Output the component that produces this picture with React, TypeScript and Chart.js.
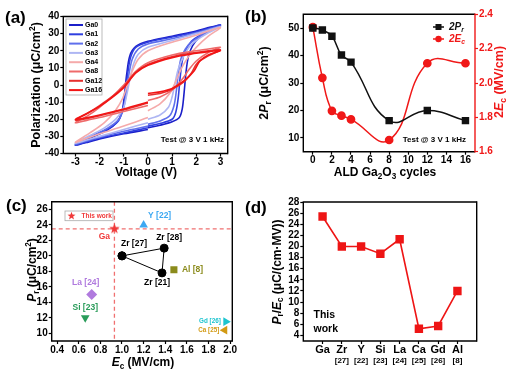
import React, { useEffect, useRef } from 'react';
import { Chart, registerables } from 'chart.js';

Chart.register(...registerables);

const FONT = '"Liberation Sans", Arial, Helvetica, sans-serif';

// ---------------- (a) P–V hysteresis loops ----------------
const loopNames = ['Ga0', 'Ga1', 'Ga2', 'Ga3', 'Ga4', 'Ga8', 'Ga12', 'Ga16'];
const loopColors = ['#1b1fc9', '#2f3fe0', '#5f6fec', '#aeb6f3', '#f5aaaa', '#ef6a6a', '#e6302f', '#f21414'];
const loopGa0: [number, number][] = [
  [0, -25], [0.5, -23.5], [1, -21.5], [1.3, -19], [1.42, -14], [1.5, -4], [1.58, 8], [1.68, 17], [1.85, 23], [2.1, 27.5], [2.5, 31.5], [3, 35],
  [2.5, 33.5], [2, 31.5], [1, 28.5], [0, 25.5], [-0.5, 22.5], [-0.75, 17], [-0.88, 6], [-0.98, -7], [-1.08, -16], [-1.3, -22], [-1.7, -26.5], [-2.3, -30.5], [-3, -35],
  [-2.5, -33.5], [-2, -31.5], [-1, -28.5], [0, -26],
];
const loopGa1: [number, number][] = [
  [0, -24], [0.5, -22.5], [1, -20], [1.15, -16], [1.25, -8], [1.33, 4], [1.42, 14], [1.55, 20], [1.8, 25.5], [2.2, 29.5], [2.6, 32.5], [3, 35],
  [2.5, 33], [2, 31], [1, 28], [0, 25], [-0.5, 22], [-0.72, 16], [-0.85, 5], [-0.95, -7], [-1.05, -15], [-1.25, -21.5], [-1.7, -26], [-2.3, -30], [-3, -35],
  [-2.5, -33], [-2, -31], [-1, -28], [0, -25],
];
const loopGa2: [number, number][] = [
  [0, -23], [0.5, -21], [0.9, -18], [1.08, -12], [1.18, -3], [1.26, 7], [1.36, 15], [1.55, 21], [1.8, 25], [2.2, 29], [2.6, 32], [3, 34.5],
  [2.5, 32.5], [2, 30.5], [1, 27], [0, 24], [-0.4, 21], [-0.65, 15], [-0.8, 5], [-0.9, -5], [-1.0, -13], [-1.2, -20], [-1.7, -25.5], [-2.3, -29.5], [-3, -34.5],
  [-2.5, -32.5], [-2, -30.5], [-1, -27], [0, -24],
];
const loopGa3: [number, number][] = [
  [0, -20], [0.5, -17.5], [0.85, -13], [1.0, -7], [1.12, 1], [1.25, 9], [1.45, 16], [1.7, 22], [2, 26], [2.5, 30.5], [3, 34],
  [2.5, 32], [2, 30], [1, 26], [0, 22], [-0.4, 18], [-0.6, 12], [-0.75, 3], [-0.88, -6], [-1.0, -13], [-1.3, -19.5], [-1.8, -25], [-2.4, -29.5], [-3, -34],
  [-2.5, -32], [-2, -30], [-1, -26], [0, -22],
];
const loopGa4: [number, number][] = [
  [0, -15], [0.5, -11], [0.9, -5], [1.15, 2], [1.4, 10], [1.7, 17], [2, 22], [2.5, 28.5], [3, 33.5],
  [2.5, 31.5], [2, 29], [1, 25], [0, 20], [-0.4, 15], [-0.65, 8], [-0.85, 0], [-1.05, -8], [-1.35, -15], [-1.8, -22], [-2.4, -28], [-3, -33.5],
  [-2.5, -31], [-2, -28.5], [-1, -24], [0, -19],
];
const loopGa8: [number, number][] = [
  [0, -9], [0.5, -7], [1, -3], [1.4, 3], [1.7, 9], [2, 14], [2.5, 19], [3, 22],
  [2.5, 21], [2, 20], [1, 17.5], [0, 13], [-0.5, 8], [-1, 0], [-1.5, -7], [-2, -13], [-2.5, -18], [-3, -22],
  [-2.5, -20.5], [-2, -19], [-1, -15.5], [0, -12],
];
const loopGa12: [number, number][] = [
  [0, -6], [0.5, -5], [1, -2.5], [1.5, 2], [1.8, 7], [2.05, 13], [2.5, 17], [3, 20.5],
  [2.5, 20], [2, 19], [1, 16.5], [0, 12], [-0.5, 7.5], [-1, -1], [-1.5, -7], [-2, -12], [-2.5, -16.5], [-3, -20.5],
  [-2.5, -19.5], [-2, -18], [-1, -14.5], [0, -10.5],
];
const loopGa16: [number, number][] = [
  [0, -5], [0.5, -4], [1, -2], [1.5, 2.5], [1.9, 8], [2.15, 14], [2.5, 17.5], [3, 20],
  [2.5, 19.5], [2, 18.5], [1, 16], [0, 11.5], [-0.5, 7], [-1, -1.5], [-1.5, -7.5], [-2, -12.5], [-2.5, -16.5], [-3, -20],
  [-2.5, -19], [-2, -17.5], [-1, -14], [0, -10],
];
const loops = [loopGa0, loopGa1, loopGa2, loopGa3, loopGa4, loopGa8, loopGa12, loopGa16];
const aXTicks = [-3, -2, -1, 0, 1, 2, 3];
const aYTicks = [-40, -30, -20, -10, 0, 10, 20, 30, 40];

// ---------------- (b) 2Pr and 2Ec vs cycles ----------------
const cycles = [0, 1, 2, 3, 4, 8, 12, 16];
const twoPr = [50, 49.3, 47, 40.2, 37.6, 16.3, 20, 16.3];
const twoEc = [2.325, 2.03, 1.838, 1.81, 1.788, 1.668, 2.115, 2.115];
const bXTicks = [0, 2, 4, 6, 8, 10, 12, 14, 16];
const bYTicks = [10, 20, 30, 40, 50];
const bY1Ticks = [1.6, 1.8, 2.0, 2.2, 2.4];

// ---------------- (c) Pr vs Ec comparison ----------------
const refNames = ['Ga', 'Y [22]', 'Zr [27]', 'Zr [28]', 'Zr [21]', 'Al [8]', 'La [24]', 'Si [23]', 'Gd [26]', 'Ca [25]'];
const refEc = [0.93, 1.2, 1.0, 1.39, 1.37, 1.48, 0.72, 0.66, 1.96, 1.95];
const refPr = [23.5, 24, 20, 21, 17.8, 18.2, 15, 12, 11.5, 10.4];
const refColors = ['#f03a3a', '#3ca8f2', '#000000', '#000000', '#000000', '#8b8b1c', '#b07ade', '#2a9c5a', '#1cc4cf', '#d29a14'];
const cXTicks = [0.4, 0.6, 0.8, 1.0, 1.2, 1.4, 1.6, 1.8, 2.0];
const cYTicks = [10, 12, 14, 16, 18, 20, 22, 24, 26];

// ---------------- (d) Pr/Ec comparison ----------------
const dCats = ['Ga', 'Zr', 'Y', 'Si', 'La', 'Ca', 'Gd', 'Al'];
const dRefs = ['', '[27]', '[22]', '[23]', '[24]', '[25]', '[26]', '[8]'];
const dVals = [25.4, 20, 20, 18.7, 21.3, 5.2, 5.7, 12];
const dYTicks = [4, 6, 8, 10, 12, 14, 16, 18, 20, 22, 24, 26, 28];

// ---------------- helpers ----------------
type Seg = { t: string; it?: boolean; sub?: boolean; sup?: boolean };

function drawRich(ctx: CanvasRenderingContext2D, segs: Seg[], x: number, y: number, size: number, color: string, align: 'left' | 'center' | 'right' = 'center', rot = 0) {
  ctx.save();
  ctx.translate(x, y);
  if (rot) ctx.rotate(rot);
  ctx.fillStyle = color;
  ctx.textBaseline = 'middle';
  ctx.textAlign = 'left';
  const fontOf = (s: Seg) => `${s.it ? 'italic ' : ''}bold ${s.sub || s.sup ? size * 0.68 : size}px ${FONT}`;
  const ws = segs.map((s) => { ctx.font = fontOf(s); return ctx.measureText(s.t).width; });
  const total = ws.reduce((a, b) => a + b, 0);
  let cx = align === 'center' ? -total / 2 : align === 'right' ? -total : 0;
  segs.forEach((s, i) => {
    ctx.font = fontOf(s);
    const dy = s.sub ? size * 0.3 : s.sup ? -size * 0.32 : 0;
    ctx.fillText(s.t, cx, dy);
    cx += ws[i];
  });
  ctx.restore();
}

function starPath(g: CanvasRenderingContext2D, cx: number, cy: number, r: number) {
  g.beginPath();
  for (let i = 0; i < 10; i++) {
    const ang = -Math.PI / 2 + (i * Math.PI) / 5;
    const rr = i % 2 === 0 ? r : r * 0.42;
    g.lineTo(cx + rr * Math.cos(ang), cy + rr * Math.sin(ang));
  }
  g.closePath();
}

function starCanvas(r: number, color: string) {
  const s = Math.ceil(r * 2 + 2);
  const c = document.createElement('canvas');
  c.width = s; c.height = s;
  const g = c.getContext('2d')!;
  starPath(g, s / 2, s / 2, r);
  g.fillStyle = color;
  g.fill();
  return c;
}

function frame(chart: any, rightColor = '#000') {
  const { ctx, chartArea: a } = chart;
  ctx.save();
  ctx.lineWidth = 1.4;
  ctx.strokeStyle = '#000';
  ctx.beginPath();
  ctx.moveTo(a.right, a.top); ctx.lineTo(a.left, a.top); ctx.lineTo(a.left, a.bottom); ctx.lineTo(a.right, a.bottom);
  ctx.stroke();
  ctx.strokeStyle = rightColor;
  ctx.beginPath();
  ctx.moveTo(a.right, a.top - 0.7); ctx.lineTo(a.right, a.bottom + 0.7);
  ctx.stroke();
  ctx.restore();
}

const tickFont = { family: FONT, size: 10, weight: 'bold' as const };

function linAxis(position: 'left' | 'right' | 'bottom', min: number, max: number, tickVals: number[], size: number, color = '#000', fmt?: (v: number) => string, showLabels = true) {
  const horizontal = position === 'bottom';
  const ticks: any = { autoSkip: false, maxRotation: 0, color, font: tickFont, padding: horizontal ? 0 : 1, display: showLabels };
  if (fmt) ticks.callback = (v: any) => fmt(Number(v));
  return {
    type: 'linear', position, min, max, ticks,
    grid: { display: true, drawOnChartArea: false, drawTicks: true, tickLength: 3, tickWidth: 1.2, color },
    border: { display: false },
    afterBuildTicks: (s: any) => { s.ticks = tickVals.map((v) => ({ value: v })); },
    afterFit: (s: any) => { if (horizontal) s.height = size; else s.width = size; },
  } as any;
}

const base = (top: number, right: number) => ({
  animation: false as const,
  responsive: false,
  devicePixelRatio: 1,
  events: [] as any[],
  layout: { padding: { top, right, left: 0, bottom: 0 } },
  plugins: { legend: { display: false }, tooltip: { enabled: false } },
});

// ---------------- panel builders ----------------
function buildA(cv: HTMLCanvasElement) {
  return new Chart(cv, {
    type: 'scatter',
    data: {
      datasets: loops.map((pts, i) => ({
        label: loopNames[i],
        data: pts.map(([x, y]) => ({ x, y })),
        showLine: true, borderColor: loopColors[i], backgroundColor: loopColors[i], borderWidth: 1.6,
        pointRadius: 0, tension: 0.3, order: loops.length - i,
      })),
    },
    options: {
      ...base(16.5, 22.3),
      scales: {
        x: linAxis('bottom', -3.5, 3.3, aXTicks, 31.5),
        y: linAxis('left', -40, 40, aYTicks, 63.3),
      },
    } as any,
    plugins: [{
      id: 'decoA',
      afterDraw(chart: any) {
        const ctx = chart.ctx as CanvasRenderingContext2D;
        frame(chart);
        ctx.save();
        ctx.fillStyle = '#fff';
        ctx.fillRect(66, 19, 36, 76);
        ctx.strokeStyle = '#aaa'; ctx.lineWidth = 0.8;
        ctx.strokeRect(66, 19, 36, 76);
        loopNames.forEach((n, i) => {
          const y = 25 + i * 9.3;
          ctx.strokeStyle = loopColors[i]; ctx.lineWidth = 2;
          ctx.beginPath(); ctx.moveTo(69, y); ctx.lineTo(83, y); ctx.stroke();
          drawRich(ctx, [{ t: n }], 85, y, 7, '#000', 'left');
        });
        ctx.restore();
        drawRich(ctx, [{ t: 'Test @ 3 V 1 kHz' }], 224, 140, 8, '#000', 'right');
        drawRich(ctx, [{ t: 'Polarization (\u03bcC/cm' }, { t: '2', sup: true }, { t: ')' }], 37, 85, 12.5, '#000', 'center', -Math.PI / 2);
        drawRich(ctx, [{ t: 'Voltage (V)' }], 146, 173, 12, '#000');
      },
    }],
  });
}

function buildB(cv: HTMLCanvasElement) {
  return new Chart(cv, {
    type: 'scatter',
    data: {
      datasets: [
        {
          label: '2Pr', data: cycles.map((x, i) => ({ x, y: twoPr[i] })), yAxisID: 'y',
          showLine: true, borderColor: '#111', backgroundColor: '#111', borderWidth: 1.5, tension: 0.45,
          pointStyle: 'rect', pointRadius: 4.2,
        },
        {
          label: '2Ec', data: cycles.map((x, i) => ({ x, y: twoEc[i] })), yAxisID: 'y1',
          showLine: true, borderColor: '#f01818', backgroundColor: '#f01818', borderWidth: 1.5, tension: 0.45,
          pointStyle: 'circle', pointRadius: 3.6,
        },
      ],
    },
    options: {
      ...base(14.3, 0),
      scales: {
        x: linAxis('bottom', -1, 17, bXTicks, 33.3),
        y: linAxis('left', 5, 55, bYTicks, 53.3),
        y1: linAxis('right', 1.6, 2.4, bY1Ticks, 36, '#f01818', (v) => v.toFixed(1)),
      },
    } as any,
    plugins: [{
      id: 'decoB',
      afterDraw(chart: any) {
        const ctx = chart.ctx as CanvasRenderingContext2D;
        frame(chart, '#f01818');
        ctx.save();
        ctx.lineWidth = 1.5;
        ctx.strokeStyle = '#111'; ctx.fillStyle = '#111';
        ctx.beginPath(); ctx.moveTo(183, 27); ctx.lineTo(194, 27); ctx.stroke();
        ctx.fillRect(185.5, 24, 6, 6);
        ctx.strokeStyle = '#f01818'; ctx.fillStyle = '#f01818';
        ctx.beginPath(); ctx.moveTo(183, 39); ctx.lineTo(194, 39); ctx.stroke();
        ctx.beginPath(); ctx.arc(188.5, 39, 3.2, 0, Math.PI * 2); ctx.fill();
        ctx.restore();
        drawRich(ctx, [{ t: '2', it: true }, { t: 'P', it: true }, { t: 'r', it: true, sub: true }], 199, 27, 10, '#111', 'left');
        drawRich(ctx, [{ t: '2', it: true }, { t: 'E', it: true }, { t: 'c', it: true, sub: true }], 199, 39, 10, '#f01818', 'left');
        drawRich(ctx, [{ t: 'Test @ 3 V 1 kHz' }], 216, 140, 8, '#000', 'right');
        drawRich(ctx, [{ t: '2' }, { t: 'P', it: true }, { t: 'r', sub: true }, { t: ' (\u03bcC/cm' }, { t: '2', sup: true }, { t: ')' }], 15, 83, 12.5, '#000', 'center', -Math.PI / 2);
        drawRich(ctx, [{ t: '2' }, { t: 'E', it: true }, { t: 'c', sub: true }, { t: ' (MV/cm)' }], 250, 82, 12.5, '#f01818', 'center', -Math.PI / 2);
        drawRich(ctx, [{ t: 'ALD Ga' }, { t: '2', sub: true }, { t: 'O' }, { t: '3', sub: true }, { t: ' cycles' }], 135, 173, 12, '#000');
      },
    }],
  });
}

const cLabelPlace: { dx: number; dy: number; align: 'left' | 'center' | 'right'; size: number }[] = [
  { dx: -10, dy: 8, align: 'center', size: 8.5 },
  { dx: 16, dy: -9.7, align: 'center', size: 8.5 },
  { dx: 12, dy: -12, align: 'center', size: 8.5 },
  { dx: 5, dy: -10.5, align: 'center', size: 8.5 },
  { dx: -5, dy: 10, align: 'center', size: 8.5 },
  { dx: 8, dy: 0, align: 'left', size: 8.5 },
  { dx: -6, dy: -12, align: 'center', size: 8.5 },
  { dx: 0, dy: -10.5, align: 'center', size: 8.5 },
  { dx: -5, dy: 0, align: 'right', size: 6.3 },
  { dx: -5.5, dy: 0, align: 'right', size: 6.3 },
];

function buildC(cv: HTMLCanvasElement) {
  const pt = (i: number) => ({ x: refEc[i], y: refPr[i] });
  const single = (i: number, style: any, radius: number, rotation = 0) => ({
    label: refNames[i], data: [pt(i)], pointStyle: style, pointRadius: radius, rotation,
    pointRotation: rotation, backgroundColor: refColors[i], borderColor: refColors[i], borderWidth: 0,
  });
  return new Chart(cv, {
    type: 'scatter',
    data: {
      datasets: [
        single(0, starCanvas(5.5, refColors[0]), 5.5),
        single(1, 'triangle', 5),
        {
          label: 'Zr', data: [pt(2), pt(3), pt(4), pt(2)], showLine: true, borderColor: '#000', backgroundColor: '#000',
          borderWidth: 1, pointRadius: 4, pointStyle: 'circle',
        },
        single(5, 'rect', 5),
        single(6, 'rectRot', 5.5),
        single(7, 'triangle', 5, 180),
        single(8, 'triangle', 5, 90),
        single(9, 'triangle', 5, -90),
      ],
    },
    options: {
      ...base(16.7, 17.7),
      scales: {
        x: linAxis('bottom', 0.35, 2.02, cXTicks, 36, '#000', (v) => v.toFixed(1)),
        y: linAxis('left', 9, 27, cYTicks, 51.7),
      },
    } as any,
    plugins: [{
      id: 'decoC',
      beforeDatasetsDraw(chart: any) {
        const ctx = chart.ctx as CanvasRenderingContext2D;
        const a = chart.chartArea;
        const px = chart.scales.x.getPixelForValue(refEc[0]);
        const py = chart.scales.y.getPixelForValue(refPr[0]);
        ctx.save();
        ctx.strokeStyle = '#f07070'; ctx.lineWidth = 1.3; ctx.setLineDash([4, 3]);
        ctx.beginPath(); ctx.moveTo(px, a.top); ctx.lineTo(px, a.bottom); ctx.stroke();
        ctx.beginPath(); ctx.moveTo(a.left, py); ctx.lineTo(a.right, py); ctx.stroke();
        ctx.restore();
      },
      afterDraw(chart: any) {
        const ctx = chart.ctx as CanvasRenderingContext2D;
        frame(chart);
        refNames.forEach((n, i) => {
          const p = cLabelPlace[i];
          const x = chart.scales.x.getPixelForValue(refEc[i]) + p.dx;
          const y = chart.scales.y.getPixelForValue(refPr[i]) + p.dy;
          drawRich(ctx, [{ t: n }], x, y, p.size, refColors[i], p.align);
        });
        ctx.save();
        ctx.fillStyle = '#fff';
        ctx.fillRect(65, 26, 48, 9.7);
        ctx.strokeStyle = '#aaa'; ctx.lineWidth = 0.8;
        ctx.strokeRect(65, 26, 48, 9.7);
        starPath(ctx, 71.5, 31, 4.2);
        ctx.fillStyle = refColors[0]; ctx.fill();
        ctx.restore();
        drawRich(ctx, [{ t: 'This work' }], 81.5, 31, 6.5, refColors[0], 'left');
        drawRich(ctx, [{ t: 'P', it: true }, { t: 'r', sub: true }, { t: ' (\u03bcC/cm' }, { t: '2', sup: true }, { t: ')' }], 33, 85, 12, '#000', 'center', -Math.PI / 2);
        drawRich(ctx, [{ t: 'E', it: true }, { t: 'c', sub: true }, { t: ' (MV/cm)' }], 143, 178, 12, '#000');
      },
    }],
  });
}

function buildD(cv: HTMLCanvasElement) {
  return new Chart(cv, {
    type: 'scatter',
    data: {
      datasets: [{
        label: 'Pr/Ec', data: dVals.map((y, i) => ({ x: i, y })), showLine: true, tension: 0,
        borderColor: '#ee1515', backgroundColor: '#ee1515', borderWidth: 1.6, pointStyle: 'rect', pointRadius: 4.8,
      }],
    },
    options: {
      ...base(17, 34.3),
      scales: {
        x: linAxis('bottom', -1, 8, dCats.map((_, i) => i), 36, '#000', undefined, false),
        y: linAxis('left', 3, 28, dYTicks, 53.3),
      },
    } as any,
    plugins: [{
      id: 'decoD',
      afterDraw(chart: any) {
        const ctx = chart.ctx as CanvasRenderingContext2D;
        frame(chart);
        dCats.forEach((c, i) => {
          const x = chart.scales.x.getPixelForValue(i);
          drawRich(ctx, [{ t: c }], x, 164.5, 11, '#000');
          if (dRefs[i]) drawRich(ctx, [{ t: dRefs[i] }], x, 175.5, 8, '#000');
        });
        drawRich(ctx, [{ t: 'This' }], 63.5, 130.5, 10.5, '#000', 'left');
        drawRich(ctx, [{ t: 'work' }], 63.5, 144.5, 10.5, '#000', 'left');
        drawRich(ctx, [{ t: 'P', it: true }, { t: 'r', sub: true }, { t: '/' }, { t: 'E', it: true }, { t: 'c', sub: true }, { t: ' (\u03bcC/(cm\u00b7MV))' }], 27.5, 87, 12, '#000', 'center', -Math.PI / 2);
      },
    }],
  });
}

function Panel({ left, top, w, h, build }: { left: number; top: number; w: number; h: number; build: (c: HTMLCanvasElement) => Chart }) {
  const ref = useRef<HTMLCanvasElement>(null);
  useEffect(() => {
    const chart = build(ref.current!);
    return () => chart.destroy();
  }, []);
  return <canvas ref={ref} width={w} height={h} style={{ position: 'absolute', left, top, width: w, height: h }} />;
}

const panelTag = (text: string, left: number, top: number) => (
  <div key={text} style={{ position: 'absolute', left, top, font: `bold 17px ${FONT}`, lineHeight: '17px', color: '#000' }}>{text}</div>
);

export default function App() {
  return (
    <div style={{ position: 'fixed', left: 0, top: 0, width: 511, height: 377, background: '#fff', overflow: 'hidden' }}>
      <Panel left={0} top={0} w={250} h={185} build={buildA} />
      <Panel left={250} top={0} w={261} h={185} build={buildB} />
      <Panel left={0} top={185} w={250} h={192} build={buildC} />
      <Panel left={250} top={185} w={261} h={192} build={buildD} />
      {panelTag('(a)', 5, 9)}
      {panelTag('(b)', 245, 8)}
      {panelTag('(c)', 6, 197)}
      {panelTag('(d)', 245, 199)}
    </div>
  );
}
